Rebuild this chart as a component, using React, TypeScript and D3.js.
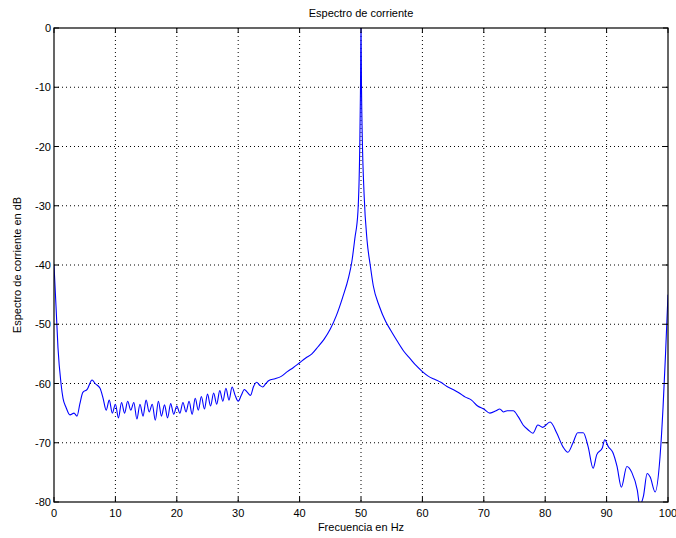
import React, { useEffect, useRef } from "react";
import * as d3 from "d3";

// frequency (Hz) and spectrum (dB)
const freq = [
  0, 0.33, 0.65, 1.14, 1.47, 1.95, 2.6, 3.26, 3.75, 4.2, 4.7, 5.4, 6.2, 6.7, 7.5,
  8.0, 8.5, 9.0, 9.5, 10.0, 10.5, 11.0, 11.5, 12.0, 12.5, 13.0, 13.5, 14.0, 14.5,
  15.0, 15.5, 16.0, 16.5, 17.0, 17.5, 18.0, 18.5, 19.0, 19.5, 20.0, 20.5, 21.0,
  21.5, 22.0, 22.5, 23.0, 23.5, 24.0, 24.5, 25.0, 25.5, 26.0, 26.5, 27.0, 27.5,
  28.0, 28.5, 29.0, 29.5, 30.0, 30.5, 31.0, 31.5, 32.0, 32.5, 33.0, 33.5, 34.0,
  34.5, 35, 36, 37, 38, 39, 40, 41, 42, 43, 44, 45, 46, 47, 48, 48.5, 49, 49.5,
  49.8, 49.92, 50.0, 50.08, 50.2, 50.5, 51, 51.5, 52, 53, 54, 55, 56, 57, 58, 59,
  60, 61, 62, 63, 64, 65, 66, 67, 68, 69, 70, 71, 72, 72.6, 73.2, 73.8, 74.8,
  75.6, 76.4, 77.2, 78, 78.8, 79.6, 80.8, 81.9, 82.9, 83.7, 84.5, 85.3, 86.2, 87,
  87.8, 88.4, 89.3, 89.7, 90.3, 91, 91.7, 92.4, 93.3, 94.1, 95, 95.4, 96, 96.6,
  97.1, 97.9, 98.7, 99.2, 99.6, 100,
];
const spectrum = [
  -40, -47, -54, -60, -62.5, -64, -65.3, -65, -65.5, -63.5, -61.5, -61, -59.4, -60, -60.8,
  -62.5, -64.5, -62.8, -65.0, -63.5, -65.8, -63.2, -65.0, -63.0, -64.5, -63.2, -66.0, -63.5, -65.5,
  -62.8, -64.8, -63.5, -66.2, -63.0, -65.5, -63.6, -65.8, -63.4, -65.2, -63.8, -65.0, -63.2,
  -64.8, -63.0, -65.2, -62.5, -64.5, -62.2, -64.3, -61.8, -63.8, -61.6, -63.5, -61.2, -63.0,
  -60.8, -62.8, -60.6, -62.0, -63.0, -62.0, -61.0, -61.5, -62.0, -60.5, -59.8, -60.3, -60.6,
  -60.0, -59.5, -59.2, -58.8, -58.0, -57.3, -56.5, -55.7, -55.0, -53.8, -52.5, -50.8, -48.5, -45.5, -42.0, -39.5, -35.5, -31,
  -20, -10, 1, -10, -18, -28, -36, -40, -43.5, -47.0, -49.5, -51.3, -53, -54.6, -55.8, -57,
  -58, -58.8, -59.3, -59.8, -60.5, -61, -61.6, -62.3, -62.8, -63.8, -64.3, -65, -64.6, -64.3, -64.8, -64.6, -64.6,
  -65.6, -67, -67.8, -68.4, -67, -67.4, -66.5, -68.4, -70.7, -71.6, -70.1, -68.3, -68.3, -70.7,
  -74.3, -72, -70.9, -69.5, -70.7, -71.6, -74, -77.5, -74, -75, -78, -80.5, -79, -75.2,
  -75.8, -78.3, -72.4, -63.9, -55, -45,
];
const xTicks = [0, 10, 20, 30, 40, 50, 60, 70, 80, 90, 100];
const yTicks = [0, -10, -20, -30, -40, -50, -60, -70, -80];

const buildChart = (el: SVGSVGElement) => {
  const dims = { width: 676, height: 538 };
  const m = { left: 54, top: 28, right: 8, bottom: 36 };
  const w = dims.width - m.left - m.right;
  const h = dims.height - m.top - m.bottom;
  const font = "Helvetica, 'Liberation Sans', Arial, sans-serif";

  const svg = d3.select(el);
  svg.selectAll("*").remove();

  const x = d3.scaleLinear().domain([0, 100]).range([0, w]);
  const y = d3.scaleLinear().domain([-80, 0]).range([h, 0]);

  svg
    .append("defs")
    .append("clipPath")
    .attr("id", "plot-clip")
    .append("rect")
    .attr("width", w)
    .attr("height", h);

  const g = svg.append("g").attr("transform", `translate(${m.left}, ${m.top})`);

  // grid
  g.selectAll(".vgrid")
    .data(xTicks.slice(1, -1))
    .enter()
    .append("line")
    .attr("x1", d => x(d))
    .attr("x2", d => x(d))
    .attr("y1", 0)
    .attr("y2", h)
    .attr("stroke", "#000")
    .attr("stroke-dasharray", "1,3");
  g.selectAll(".hgrid")
    .data(yTicks.slice(1, -1))
    .enter()
    .append("line")
    .attr("y1", d => y(d))
    .attr("y2", d => y(d))
    .attr("x1", 0)
    .attr("x2", w)
    .attr("stroke", "#000")
    .attr("stroke-dasharray", "1,3");

  // curve
  const data = freq.map((f, i) => [f, spectrum[i]] as [number, number]);
  g.append("path")
    .datum(data)
    .attr("clip-path", "url(#plot-clip)")
    .attr("fill", "none")
    .attr("stroke", "#0000ff")
    .attr("stroke-width", 1.1)
    .attr("stroke-linejoin", "round")
    .attr(
      "d",
      d3
        .line<[number, number]>()
        .x(d => x(d[0]))
        .y(d => y(d[1]))
        .curve(d3.curveMonotoneX)
    );

  // box and inward ticks
  g.append("rect")
    .attr("width", w)
    .attr("height", h)
    .attr("fill", "none")
    .attr("stroke", "#000")
    .attr("stroke-width", 1.2);

  xTicks.forEach(t => {
    g.append("line").attr("x1", x(t)).attr("x2", x(t)).attr("y1", h).attr("y2", h - 5).attr("stroke", "#000");
    g.append("line").attr("x1", x(t)).attr("x2", x(t)).attr("y1", 0).attr("y2", 5).attr("stroke", "#000");
  });
  yTicks.forEach(t => {
    g.append("line").attr("y1", y(t)).attr("y2", y(t)).attr("x1", 0).attr("x2", 5).attr("stroke", "#000");
    g.append("line").attr("y1", y(t)).attr("y2", y(t)).attr("x1", w).attr("x2", w - 5).attr("stroke", "#000");
  });

  g.selectAll(".xlab")
    .data(xTicks)
    .enter()
    .append("text")
    .attr("x", d => x(d))
    .attr("y", h + 15)
    .attr("text-anchor", "middle")
    .attr("font-family", font)
    .attr("font-size", 11)
    .text(d => d);

  g.selectAll(".ylab")
    .data(yTicks)
    .enter()
    .append("text")
    .attr("x", -3)
    .attr("y", d => y(d) + 4)
    .attr("text-anchor", "end")
    .attr("font-family", font)
    .attr("font-size", 11)
    .text(d => d);

  svg.append("text")
    .attr("x", m.left + w / 2)
    .attr("y", 17)
    .attr("text-anchor", "middle")
    .attr("font-family", font)
    .attr("font-size", 11)
    .text("Espectro de corriente");

  svg.append("text")
    .attr("x", m.left + w / 2)
    .attr("y", 531)
    .attr("text-anchor", "middle")
    .attr("font-family", font)
    .attr("font-size", 11)
    .text("Frecuencia en Hz");

  svg.append("text")
    .attr("transform", `translate(21, ${m.top + h / 2}) rotate(-90)`)
    .attr("text-anchor", "middle")
    .attr("font-family", font)
    .attr("font-size", 11)
    .text("Espectro de corriente en dB");
};

function App() {
  const ref = useRef<SVGSVGElement>(null);
  useEffect(() => {
    if (ref.current) buildChart(ref.current);
  }, []);

  return (
    <svg
      ref={ref}
      width={676}
      height={538}
      style={{ position: "absolute", left: 0, top: 0, background: "#fff" }}
    />
  );
}

export default App;
